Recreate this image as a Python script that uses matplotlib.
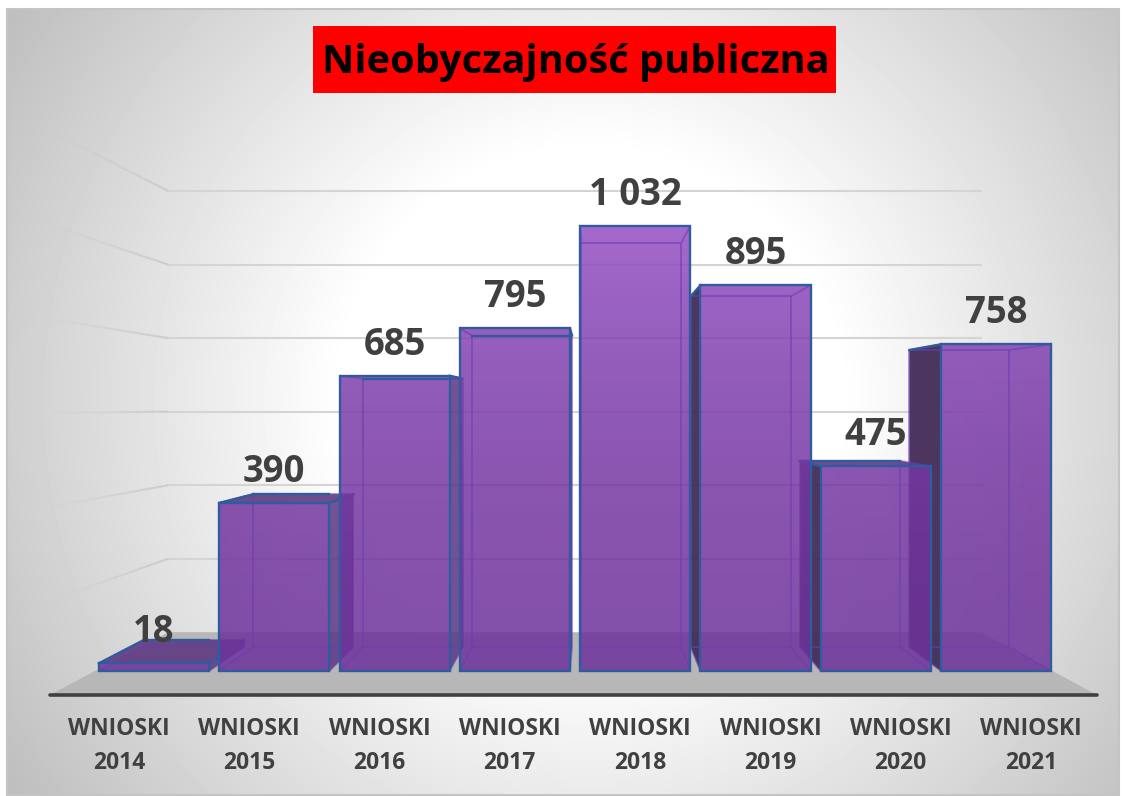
import numpy as np
import matplotlib
matplotlib.use('Agg')
import matplotlib.pyplot as plt
from matplotlib.patches import Polygon, Rectangle
from matplotlib.collections import LineCollection

plt.rcParams['font.family'] = ['Open Sans', 'DejaVu Sans']

years = ['2014', '2015', '2016', '2017', '2018', '2019', '2020', '2021']
values = [18, 390, 685, 795, 1032, 895, 475, 758]
value_labels = ['18', '390', '685', '795', '1 032', '895', '475', '758']
grid_levels = [200, 400, 600, 800, 1000, 1200]

W, H = 1132, 796
text_col = '#404040'
edge_col = '#2F5C9E'
inner_col = '#6A3DB0'

# perspective of the fake 3d: everything shrinks towards one point
vx, vy = 3.65, 612.0
bar_w = 0.915
back = 0.909    # back side of the bars
wall = 0.853    # back wall of the chart
front = 1.09    # front edge of the floor
label_s = 1.083 # category labels
x_left, x_right = -0.49, 7.43


def proj(x, y, s):
    return vx + (x - vx) * s, vy + (y - vy) * s


fig = plt.figure(figsize=(W / 100, H / 100), dpi=100)

# background, in pixels
bg = fig.add_axes([0, 0, 1, 1])
bg.set_xlim(0, W)
bg.set_ylim(H, 0)
bg.axis('off')
left, right, top, bottom = 7, 1119, 9, 795
xx, yy = np.meshgrid(np.arange(left, right), np.arange(top, bottom))
dist = np.hypot(xx - 590, yy - 400)
shade = 255 - 65 * np.clip((dist - 250) / 450, 0, 1.05)
bg.imshow(shade, cmap='gray', vmin=0, vmax=255, extent=(left, right, bottom, top), aspect='auto')
bg.set_xlim(0, W)
bg.set_ylim(H, 0)
bg.add_patch(Rectangle((left, top), right - left, bottom - top, fill=False, ec='#C4C4C4', lw=1.5))
bg.add_patch(Rectangle((313, 26), 523, 67, fc='#FF0000', ec='none'))
bg.text(575.5, 63, 'Nieobyczajność publiczna', ha='center', va='center', fontsize=28.6,
        fontweight='bold', color='black')

# chart, in category / value units
ax = fig.add_axes([0, 0, 1, 1])
ax.patch.set_alpha(0)
ax.axis('off')
xlim = (-154 / 120.3, (W - 154) / 120.3)
ylim = ((671 - H) / 0.431, 671 / 0.431)

# grid on the back wall and the side wall
for g in grid_levels:
    x0, y0 = proj(x_left, g, wall)
    x1, y1 = proj(x_right, g, wall)
    ax.plot([x0, x1], [y0, y1], color='#D4D4D4', lw=1.5, zorder=1)
    x2, y2 = proj(x_left, g, front)
    t = np.linspace(0, 1, 12)
    sx = x0 + (x2 - x0) * t
    sy = y0 + (y2 - y0) * t
    segs = [[(sx[k], sy[k]), (sx[k + 1], sy[k + 1])] for k in range(11)]
    ax.add_collection(LineCollection(segs, colors=[(0.8, 0.8, 0.8, 1 - k / 11) for k in range(11)],
                                     linewidths=1.5, zorder=1))

# floor
corners = [proj(x_left, 0, front), proj(x_right + 0.06, 0, front), proj(x_right, 0, wall), proj(x_left, 0, wall)]
ax.add_patch(Polygon(corners, fc='#B7B7B7', ec='none', zorder=2))
ax.plot([corners[0][0], corners[1][0]], [corners[0][1], corners[1][1]], color=text_col, lw=2.6,
        solid_capstyle='round', zorder=3)

# outer bars first, they are further from the viewer's centre
order = [0, 1, 2, 3, 7, 6, 5, 4]
z = 4
for i in order:
    v = values[i]
    x0, x1 = i - bar_w / 2, i + bar_w / 2
    bx0, by0 = proj(x0, 0, back)
    bx1, by1 = proj(x1, v, back)

    # top face seen from above on the short bars
    if v < vy:
        ax.add_patch(Polygon([(x0, v), (x1, v), (bx1, by1), (bx0, by1)], fc='#5E3A80', alpha=0.9, ec='none', zorder=z))

    # side that sticks out of the front face
    if x0 > vx:
        ax.add_patch(Polygon([(x0, 0), (x0, v), (bx0, by1), (bx0, by0)], fc='#46305A', alpha=0.97, ec='none', zorder=z))
    elif x1 < vx:
        ax.add_patch(Polygon([(x1, 0), (x1, v), (bx1, by1), (bx1, by0)], fc='#5E3A86', alpha=0.88, ec='none', zorder=z))

    # front face with a vertical fade, the change is mostly in the upper part
    t = (np.linspace(v / 1032, 0, 256)[:, None]) ** 2
    rgba = np.zeros((256, 1, 4))
    rgba[..., 0] = (110 + 39 * t) / 255
    rgba[..., 1] = (50 + 28 * t) / 255
    rgba[..., 2] = (155 + 41 * t) / 255
    rgba[..., 3] = 0.85
    ax.imshow(rgba, extent=(x0, x1, 0, v), aspect='auto', zorder=z + 1, interpolation='bilinear')

    # inner edges of the box
    box = [[(bx0, by0), (bx1, by0)], [(bx0, by0), (bx0, by1)], [(bx1, by0), (bx1, by1)], [(bx0, by1), (bx1, by1)],
           [(x0, 0), (bx0, by0)], [(x1, 0), (bx1, by0)], [(x1, v), (bx1, by1)], [(x0, v), (bx0, by1)]]
    ax.add_collection(LineCollection(box, colors=inner_col, linewidths=1.3, alpha=0.6, zorder=z + 2))

    # outline
    ax.bar(i, v, width=bar_w, fc='none', ec=edge_col, lw=1.7, zorder=z + 3)
    if x0 > vx or v < vy:
        ax.plot([x0, bx0], [v, by1], color=edge_col, lw=1.7, zorder=z + 3)
    if v < vy or x1 < vx:
        ax.plot([bx0, min(bx1, x1)], [by1, by1], color=edge_col, lw=1.7, zorder=z + 3)
    if x1 < vx:
        ax.plot([x1, bx1], [v, by1], color=edge_col, lw=1.7, zorder=z + 3)
    z += 4

# value labels above the bars
for i in range(len(values)):
    ax.annotate(value_labels[i], (i, values[i]), xytext=(0, 22.5), textcoords='offset points', ha='center',
                va='center', fontsize=26.3, fontweight='bold', color=text_col, zorder=100)

# category labels sit on the front edge of the floor, so they spread wider than the bars
for i in range(len(years)):
    lx, ly = proj(i, 0, label_s)
    ax.annotate('WNIOSKI', (lx, ly), xytext=(1, -26), textcoords='offset points', ha='center', va='center',
                fontsize=16.5, fontweight='bold', color=text_col, zorder=100)
    ax.annotate(years[i], (lx, ly), xytext=(1, -50.5), textcoords='offset points', ha='center', va='center',
                fontsize=16.5, fontweight='bold', color=text_col, zorder=100)

ax.set_xlim(xlim)
ax.set_ylim(ylim)

fig.savefig('out.png', dpi=100)
